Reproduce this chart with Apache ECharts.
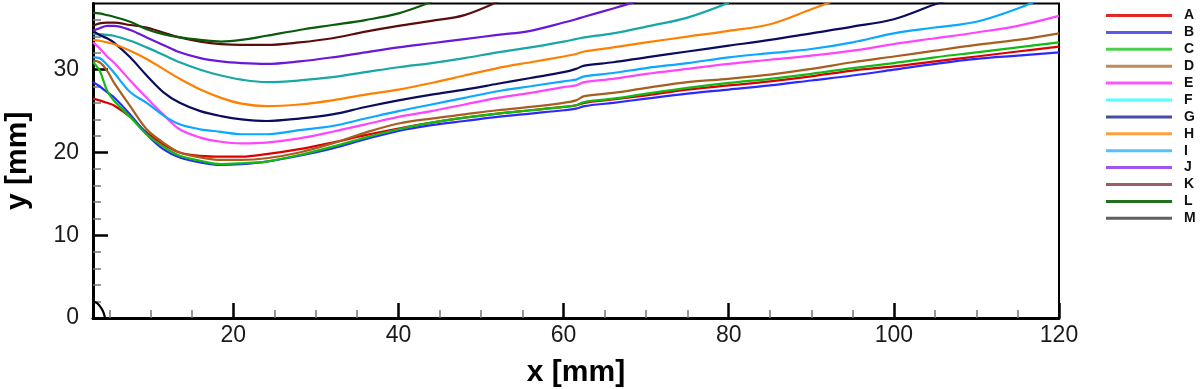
<!DOCTYPE html>
<html><head><meta charset="utf-8">
<script src="https://cdn.jsdelivr.net/npm/echarts@6/dist/echarts.min.js"></script>
<style>html,body{margin:0;padding:0;background:#fff}#c{width:1200px;height:389px}</style>
</head><body><div id="c"></div>
<script>
// shared x positions [mm]
const X = [3, 3.8, 4.7, 5.5, 7.5, 9.5, 11.5, 13.5, 16, 18.5, 21, 24, 28, 32, 36, 40, 44, 48, 52, 56, 60, 61.5, 62.5, 66, 70, 75, 80, 85, 90, 95, 100, 105, 110, 115, 120];
const A = [26.5, 26.3, 26.0, 25.7, 24.3, 22.4, 21.0, 20.0, 19.6, 19.5, 19.5, 19.8, 20.4, 21.2, 22.1, 22.9, 23.6, 24.2, 24.7, 25.1, 25.5, 25.7, 26.0, 26.4, 26.9, 27.6, 28.1, 28.6, 29.2, 29.9, 30.4, 31.0, 31.6, 32.2, 32.8];
const B = [28.5, 28.0, 27.3, 26.7, 24.6, 22.2, 20.4, 19.4, 18.8, 18.5, 18.6, 18.9, 19.6, 20.5, 21.6, 22.6, 23.3, 23.8, 24.3, 24.7, 25.1, 25.3, 25.6, 26.0, 26.5, 27.1, 27.6, 28.1, 28.7, 29.3, 30.0, 30.7, 31.3, 31.7, 32.1];
const C = [30.9, 29.9, 27.5, 26.3, 24.3, 22.2, 20.7, 19.6, 19.0, 18.6, 18.7, 18.9, 19.7, 20.7, 21.8, 22.8, 23.6, 24.2, 24.7, 25.1, 25.5, 25.7, 26.1, 26.5, 27.1, 27.8, 28.4, 28.9, 29.5, 30.2, 30.8, 31.5, 32.1, 32.7, 33.3];
const D = [31.1, 30.9, 29.9, 28.5, 25.6, 22.8, 21.2, 20.0, 19.4, 19.1, 19.1, 19.3, 20.0, 21.1, 22.4, 23.5, 24.1, 24.6, 25.1, 25.5, 26.0, 26.3, 26.8, 27.2, 27.8, 28.5, 28.9, 29.4, 30.1, 30.9, 31.6, 32.3, 33.0, 33.6, 34.4];
const E = [33.3, 32.6, 31.6, 30.9, 28.7, 26.6, 24.6, 22.8, 21.8, 21.3, 21.1, 21.2, 21.7, 22.5, 23.4, 24.3, 25.0, 25.8, 26.6, 27.2, 27.9, 28.1, 28.5, 28.9, 29.5, 30.1, 30.7, 31.2, 31.7, 32.3, 33.1, 33.8, 34.5, 35.3, 36.5];
const F = [34.3, 34.3, 34.2, 34.1, 33.5, 32.7, 31.8, 30.9, 30.0, 29.3, 28.8, 28.5, 28.7, 29.1, 29.7, 30.3, 30.8, 31.4, 32.1, 32.7, 33.4, 33.7, 33.9, 34.4, 35.2, 36.3, 38.1, null, null, null, null, null, null, null, null];
const G = [34.7, 34.2, 33.8, 33.3, 31.5, 29.3, 27.3, 26.0, 25.0, 24.4, 24.0, 23.8, 24.1, 24.6, 25.5, 26.3, 27.0, 27.6, 28.3, 29.0, 29.7, 30.1, 30.5, 30.9, 31.5, 32.2, 32.9, 33.6, 34.4, 35.2, 36.1, 37.9, 39.5, null, null];
const H = [33.6, 33.5, 33.3, 33.1, 32.3, 31.3, 30.1, 28.9, 27.6, 26.6, 25.9, 25.6, 25.8, 26.3, 27.0, 27.6, 28.4, 29.3, 30.2, 30.9, 31.6, 31.9, 32.2, 32.7, 33.3, 34.0, 34.7, 35.5, 37.3, 39.2, null, null, null, null, null];
const I = [31.5, 31.4, 30.6, 29.7, 27.3, 26.0, 24.5, 23.4, 22.8, 22.5, 22.2, 22.2, 22.7, 23.2, 24.1, 25.0, 25.8, 26.6, 27.4, 28.0, 28.6, 28.8, 29.2, 29.6, 30.2, 30.8, 31.5, 32.0, 32.5, 33.3, 34.4, 35.1, 35.8, 37.4, 39.5];
const J = [34.7, 35.0, 35.3, 35.3, 34.8, 33.9, 33.0, 32.1, 31.4, 31.0, 30.8, 30.7, 31.0, 31.5, 32.1, 32.7, 33.2, 33.7, 34.2, 34.7, 35.7, 36.1, 36.4, 37.4, 38.6, null, null, null, null, null, null, null, null, null, null];
const K = [35.3, 35.6, 35.7, 35.7, 35.4, 35.1, 34.5, 33.9, 33.4, 33.1, 33.0, 33.0, 33.3, 33.8, 34.6, 35.3, 35.9, 36.6, 38.2, null, null, null, null, null, null, null, null, null, null, null, null, null, null, null, null];
const L = [36.9, 36.8, 36.6, 36.4, 35.8, 34.9, 34.3, 33.9, 33.6, 33.4, 33.6, 34.1, 34.8, 35.4, 36.0, 36.8, 38.2, null, null, null, null, null, null, null, null, null, null, null, null, null, null, null, null, null, null];
const MX = [3, 3.5, 4.0, 4.3, 4.45];
const MY = [2.0, 1.8, 1.2, 0.6, 0];

const NAMES = ['A','B','C','D','E','F','G','H','I','J','K','L','M'];
const XMAJOR = [20, 40, 60, 80, 100, 120];
const XMINOR = [5, 10, 15, 25, 30, 35, 45, 50, 55, 65, 70, 75, 85, 90, 95, 105, 110, 115];
const YMAJOR = [0, 10, 20, 30];
const YMINOR = [2, 4, 6, 8, 12, 14, 16, 18, 22, 24, 26, 28, 32, 34, 36];

const lineColors = {A:'#dd0000',B:'#2a2aff',C:'#12bb12',D:'#a85e1e',E:'#ff44ff',F:'#18a6a6',G:'#0c0c5e',H:'#ff8000',I:'#0aa8ff',J:'#6a18d8',K:'#5c0c0c',L:'#0a5c0a',M:'#000000'};
const legendColors = {A:'#e02828',B:'#5a5af0',C:'#4cd04c',D:'#c08a5a',E:'#ff55ff',F:'#55ffff',G:'#4a4aa8',H:'#ffa040',I:'#55c0ff',J:'#a055f0',K:'#986060',L:'#207020',M:'#606060'};
const Ys = {A,B,C,D,E,F,G,H,I,J,K,L};

const series = NAMES.map(n => {
  const data = n === 'M' ? MX.map((x,i)=>[x, MY[i]]) : X.map((x,i)=>[x, Ys[n][i]]);
  return {
    name: n, type: 'line', xAxisIndex: 0, yAxisIndex: 0,
    data, symbol: 'none', smooth: 0.35, clip: true,
    lineStyle: {color: lineColors[n], width: 2.2},
    itemStyle: {color: lineColors[n]},
    z: 3
  };
});

const FONT = 'Liberation Sans, Arial, sans-serif';
const chart = echarts.init(document.getElementById('c'), null, {renderer:'canvas'});
chart.setOption({
  animation: false,
  backgroundColor: '#fff',
  grid: {left: 93, right: 141, top: 3.5, bottom: 71, outerBoundsMode: 'none', containLabel: false,
         show: true, borderColor: '#000', borderWidth: 2, backgroundColor: 'transparent'},
  legend: {
    orient: 'vertical', left: 1101, top: 3.5, itemWidth: 66, itemHeight: 3, itemGap: 2.9, icon: 'rect',
    textStyle: {fontFamily: FONT, fontSize: 14, fontWeight: 'bold', color: '#111', lineHeight: 14, padding: [0,0,0,7]},
    data: NAMES.map(n => ({name: n, itemStyle: {color: legendColors[n], borderWidth: 0}}))
  },
  xAxis: [
    {type: 'value', min: 3, max: 120, position: 'bottom',
     name: 'x [mm]', nameLocation: 'middle', nameGap: 40,
     nameTextStyle: {fontFamily: FONT, fontSize: 30, fontWeight: 'bold', color: '#000'},
     axisLine: {show: true, onZero: false, lineStyle: {color: '#000', width: 3}},
     axisTick: {show: true, inside: true, length: 15, customValues: XMAJOR, lineStyle: {color: '#000', width: 2.5}},
     axisLabel: {show: true, customValues: XMAJOR, margin: 6, fontFamily: FONT, fontSize: 23, color: '#1a1a1a'},
     splitLine: {show: false}},
    {type: 'value', min: 3, max: 120, position: 'bottom',
     axisLine: {show: false},
     axisTick: {show: true, inside: true, length: 8, customValues: XMINOR, lineStyle: {color: '#777', width: 1.5}},
     axisLabel: {show: false}, splitLine: {show: false}}
  ],
  yAxis: [
    {type: 'value', min: 0, max: 38, interval: 10, position: 'left',
     name: 'y [mm]', nameLocation: 'middle', nameGap: 60,
     nameTextStyle: {fontFamily: FONT, fontSize: 30, fontWeight: 'bold', color: '#000'},
     axisLine: {show: true, onZero: false, lineStyle: {color: '#000', width: 3}},
     axisTick: {show: true, inside: true, length: 15, customValues: YMAJOR, lineStyle: {color: '#000', width: 2.5}},
     axisLabel: {show: true, customValues: YMAJOR, margin: 14, fontFamily: FONT, fontSize: 23, color: '#1a1a1a'},
     splitLine: {show: false}},
    {type: 'value', min: 0, max: 38, interval: 2, position: 'left',
     axisLine: {show: false},
     axisTick: {show: true, inside: true, length: 8, customValues: YMINOR, lineStyle: {color: '#777', width: 1.5}},
     axisLabel: {show: false}, splitLine: {show: false}}
  ],
  series
});
</script>
</body></html>
